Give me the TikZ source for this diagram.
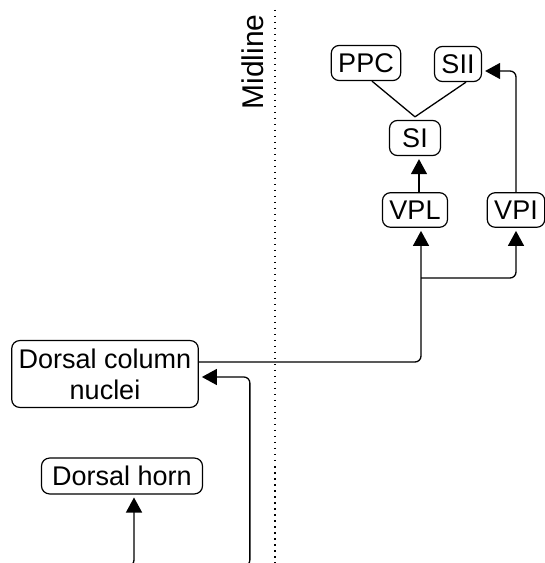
\documentclass[tikz,border=0pt]{standalone}
\usepackage{fontspec}
\setmainfont{Liberation Sans}
\usetikzlibrary{arrows.meta,positioning}

\begin{document}
\begin{tikzpicture}[x=1pt,y=1pt,
    box/.style={draw,line width=1.2pt,rounded corners=8pt,align=center,
        inner xsep=7pt,inner ysep=8pt,font=\fontsize{27}{31}\selectfont},
    link/.style={line width=1.3pt},
    arr/.style={link,-{Triangle[length=15pt,width=16pt]},shorten >=3pt}]
\useasboundingbox (0,0) rectangle (545,563);
\node[box] (vpl) at (415,353) {VPL};
\node[box,minimum width=51pt,above of=vpl,node distance=72pt] (si) {SI};
\node[box] (ppc) at (366,500) {PPC};
\node[box] (sii) at (458,499) {SII};
\node[box,right of=vpl,node distance=101pt] (vpi) {VPI};
\node[box] (dcn) at (105,189) {Dorsal column\\nuclei};
\node[box,minimum width=161pt] (dh) at (122,87) {Dorsal horn};
% midline
\node[rotate=90,font=\fontsize{30}{32}\selectfont] (mid) at (253,501) {Midline};
\draw[line width=1.2pt,dash pattern=on 1.5pt off 4.5pt] (275,553) -- (275,0);
\coordinate (split) at (421,285);
\coordinate (dcnin) at (236,-3);
\coordinate (dhin) at (122,-3);
\draw[link] ([xshift=6pt]ppc.south) -- ([yshift=3pt]si.north);
\draw[link] ([xshift=8pt]sii.south) -- ([yshift=3pt]si.north);
\draw[arr] ([xshift=4pt]vpl.north) -- ([xshift=4pt]si.south);
\draw[arr,rounded corners=6pt] (vpi.north) |- ([yshift=-7pt]sii.east);
\draw[arr,rounded corners=6pt] ([yshift=12pt]dcn.east) -| ([xshift=6pt]vpl.south);
\draw[arr,rounded corners=6pt] (split) -| (vpi.south);
\draw[arr,rounded corners=6pt] (dcnin) -| ([xshift=51pt,yshift=-3pt]dcn.east)
    -- ([yshift=-3pt]dcn.east);
\draw[arr,rounded corners=6pt] (dhin) -| ([xshift=12pt]dh.south);
\end{tikzpicture}
\end{document}
